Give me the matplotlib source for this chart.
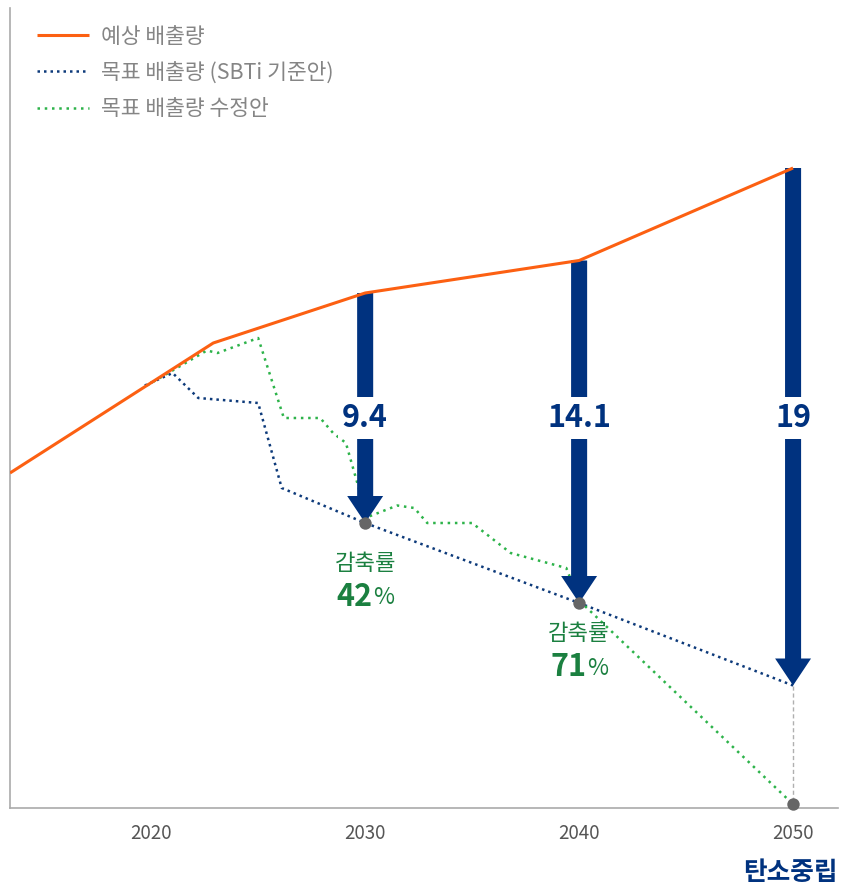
import matplotlib
matplotlib.use('Agg')
import matplotlib.pyplot as plt
import numpy as np

# data (years, emissions in arbitrary units)
exp_years = [2013.4, 2022.9, 2030, 2040, 2050]
exp_vals = [13.4, 18.6, 20.6, 21.9, 25.6]

sbti_years = [2019.7, 2021.0, 2022.2, 2025.0, 2026.1, 2030, 2040, 2050]
sbti_vals = [16.9, 17.4, 16.4, 16.2, 12.8, 11.4, 8.2, 4.9]

rev_years = [2019.8, 2022.6, 2023.1, 2025.0, 2026.2, 2027.9, 2028.5, 2029.1, 2029.7,
             2030.0, 2031.5, 2032.3, 2032.9, 2035.0, 2036.8, 2039.4, 2040.0, 2050]
rev_vals = [16.9, 18.3, 18.2, 18.8, 15.6, 15.6, 15.0, 14.6, 12.8,
            11.6, 12.1, 12.0, 11.4, 11.4, 10.2, 9.6, 8.3, 0.15]

arrow_years = [2030, 2040, 2050]
gap_labels = ['9.4', '14.1', '19']
rate_years = [2030, 2040]
rate_labels = ['42', '71']
dot_vals = [11.4, 8.2, 0.15]

legend_labels = ['예상 배출량', '목표 배출량 (SBTi 기준안)', '목표 배출량 수정안']
xticks = [2020, 2030, 2040, 2050]

orange = '#fc6012'
navy = '#00327f'
blue = '#0d3a7a'
green = '#2db34a'
dgreen = '#1b8040'

plt.rcParams['font.family'] = ['Noto Sans CJK KR', 'DejaVu Sans']

fig = plt.figure(figsize=(8.41, 8.85), dpi=100)
ax = fig.add_axes([10/841, 77/885, 828/841, 800/885])

l1, = ax.plot(exp_years, exp_vals, color=orange, lw=2.2, zorder=4, solid_capstyle='butt')
l2, = ax.plot(sbti_years, sbti_vals, color=blue, lw=1.8, ls=(0, (1, 1.6)), zorder=2)
l3, = ax.plot(rev_years, rev_vals, color=green, lw=1.8, ls=(0, (1, 1.9)), zorder=2)

# dashed drop line at 2050
ax.plot([2050, 2050], [sbti_vals[-1], dot_vals[-1]], color='#b0b0b0', lw=1, ls=(0, (3, 2)), zorder=1)

for yr, lab in zip(arrow_years, gap_labels):
    y0 = np.interp(yr, exp_years, exp_vals)
    y1 = np.interp(yr, sbti_years, sbti_vals)
    ax.arrow(yr, y0, 0, y1 - y0, width=0.75, head_width=1.68, head_length=1.08,
             length_includes_head=True, color=navy, lw=0, zorder=3)
    ax.text(yr, 15.6, lab, ha='center', va='center', fontsize=22, fontweight='bold',
            color=navy, zorder=6,
            bbox=dict(boxstyle='square,pad=0.15', fc='white', ec='none'))

ax.scatter(arrow_years, dot_vals, s=80, color='#666666', zorder=7, clip_on=False, lw=0)

# reduction rate labels
for yr, lab, dy in zip(rate_years, rate_labels, [-29, -22]):
    yv = np.interp(yr, sbti_years, sbti_vals)
    ax.annotate('감축률', xy=(yr, yv), xytext=(0, dy), textcoords='offset points',
                ha='center', va='center', fontsize=16, color=dgreen)
    ax.annotate(lab, xy=(yr, yv), xytext=(5, dy - 24), textcoords='offset points',
                ha='right', va='center', fontsize=22, fontweight='bold', color=dgreen)
    ax.annotate('%', xy=(yr, yv), xytext=(5.5, dy - 25), textcoords='offset points',
                ha='left', va='center', fontsize=16.5, color=dgreen)

ax.set_xlim(2013.4, 2052.1)
ax.set_ylim(0, 32)
ax.set_xticks(xticks)
ax.set_xticklabels([str(t) for t in xticks])
ax.set_yticks([])
ax.tick_params(axis='x', length=0, pad=11, labelsize=13.5, labelcolor='#555555')
for s in ['top', 'right']:
    ax.spines[s].set_visible(False)
for s in ['left', 'bottom']:
    ax.spines[s].set_color('#aaaaaa')
    ax.spines[s].set_linewidth(1.2)

leg = ax.legend([l1, l2, l3], legend_labels, loc='upper left', bbox_to_anchor=(0.033, 0.978),
                frameon=False, fontsize=15.5, handlelength=2.4, handletextpad=0.58,
                labelspacing=0.66, borderpad=0, borderaxespad=0)
for t in leg.get_texts():
    t.set_color('#858585')

fig.text(838/841, 12/885, '탄소중립', ha='right', va='center', fontsize=18.5,
         fontweight='bold', color=navy)

fig.savefig('out.png', dpi=100)
